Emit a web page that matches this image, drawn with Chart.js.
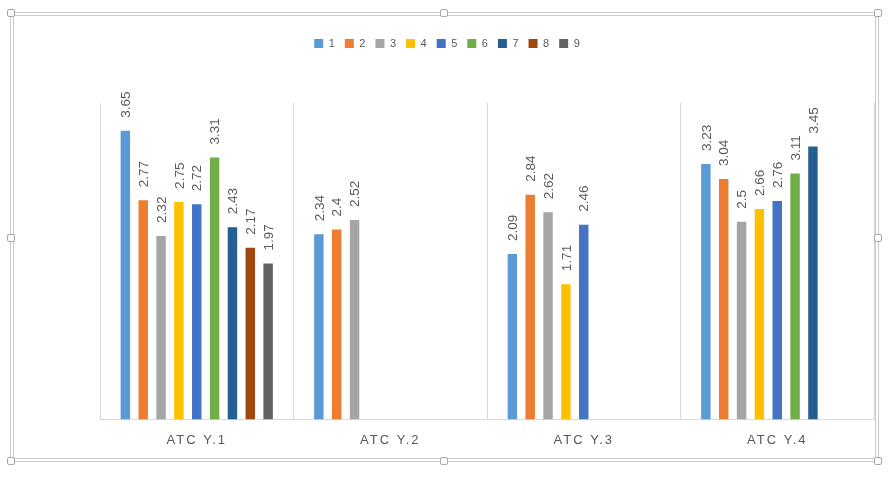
<!DOCTYPE html>
<html>
<head>
<meta charset="utf-8">
<script src="https://cdn.jsdelivr.net/npm/chart.js@4.4.0/dist/chart.umd.min.js"></script>
<style>
  html, body { margin: 0; padding: 0; background: #fff; }
  #wrap { position: relative; width: 890px; height: 478px; }
  #wrap canvas { position: absolute; left: 0; top: 0; }
  .frame { position: absolute; border: 1px solid #c9c9c9; pointer-events: none; }
  .handle { position: absolute; width: 6px; height: 6px; background: #fff;
            border: 1px solid #a6a6a6; border-radius: 2px; }
</style>
</head>
<body>
<div id="wrap">
  <canvas id="chart" width="890" height="478"></canvas>
  <div class="frame" style="left:10px;top:12px;width:867px;height:448px"></div>
  <div class="frame" style="left:13px;top:15px;width:861px;height:442px"></div>
</div>
<script>
// categories and series (null = no bar)
var categories = ['ATC Y.1', 'ATC Y.2', 'ATC Y.3', 'ATC Y.4']
var seriesNames = ['1', '2', '3', '4', '5', '6', '7', '8', '9']
var s1 = [3.65, 2.34, 2.09, 3.23]
var s2 = [2.77, 2.4, 2.84, 3.04]
var s3 = [2.32, 2.52, 2.62, 2.5]
var s4 = [2.75, null, 1.71, 2.66]
var s5 = [2.72, null, 2.46, 2.76]
var s6 = [3.31, null, null, 3.11]
var s7 = [2.43, null, null, 3.45]
var s8 = [2.17, null, null, null]
var s9 = [1.97, null, null, null]
var colors = ['#5B9BD5', '#ED7D31', '#A5A5A5', '#FFC000', '#4472C4', '#70AD47', '#255E91', '#9E480E', '#636363']

var allSeries = [s1, s2, s3, s4, s5, s6, s7, s8, s9]

// selection handles of the chart frame
var handles = [[10, 12], [443, 12], [877, 12], [10, 237], [877, 237], [10, 460], [443, 460], [877, 460]]
var wrap = document.getElementById('wrap')
handles.forEach(function(h){
    var d = document.createElement('div')
    d.className = 'handle'
    d.style.left = (h[0] - 3) + 'px'
    d.style.top = (h[1] - 3) + 'px'
    wrap.appendChild(d)
})

// extra room under the legend
const legendGap = {
    id: 'legendGap',
    beforeInit(chart) {
        const fit = chart.legend.fit
        chart.legend.fit = function() {
            fit.bind(chart.legend)()
            this.height += 44
        }
    }
}

// spaced category labels, values written upright above bars
const labelPlugin = {
    id: 'barValues',
    beforeDraw(chart) {
        chart.ctx.letterSpacing = '2px'
    },
    beforeDatasetsDraw(chart) {
        chart.ctx.letterSpacing = '0px'
    },
    afterDatasetsDraw(chart) {
        var ctx = chart.ctx
        ctx.save()
        ctx.font = '13.5px "Liberation Sans", Arial, sans-serif'
        ctx.fillStyle = '#595959'
        ctx.textAlign = 'left'
        ctx.textBaseline = 'middle'
        chart.data.datasets.forEach(function(ds, i){
            var meta = chart.getDatasetMeta(i)
            meta.data.forEach(function(bar, j){
                var v = ds.data[j]
                if (v === null || v === undefined) return
                ctx.save()
                ctx.translate(bar.x + 1, bar.y - 13)
                ctx.rotate(-Math.PI / 2)
                ctx.fillText(String(v), 0, 0)
                ctx.restore()
            })
        })
        ctx.restore()
    }
}

var datasets = seriesNames.map(function(name, i){
    return {
        label: name,
        data: allSeries[i],
        backgroundColor: colors[i],
        borderWidth: 0,
        categoryPercentage: 0.83,
        barPercentage: 0.53
    }
})

var ctx = document.getElementById('chart').getContext('2d')
new Chart(ctx, {
    type: 'bar',
    data: { labels: categories, datasets: datasets },
    plugins: [legendGap, labelPlugin],
    options: {
        responsive: false,
        animation: false,
        layout: { padding: { left: 4, right: 16, top: 30, bottom: 17 } },
        plugins: {
            legend: {
                position: 'top',
                labels: {
                    boxWidth: 9,
                    boxHeight: 9,
                    padding: 8,
                    color: '#595959',
                    font: { size: 11, family: '"Liberation Sans", Arial, sans-serif' }
                }
            },
            tooltip: { enabled: false }
        },
        scales: {
            x: {
                grid: { color: '#d9d9d9', drawTicks: false, offset: true },
                border: { color: '#d9d9d9' },
                ticks: {
                    padding: 13,
                    color: '#595959',
                    font: { size: 13, family: '"Liberation Sans", Arial, sans-serif' }
                }
            },
            y: {
                min: 0,
                max: 4,
                grid: { display: false },
                border: { display: false },
                ticks: { display: false },
                afterFit: function(scale) { scale.width = 96 }
            }
        }
    }
})
</script>
</body>
</html>
